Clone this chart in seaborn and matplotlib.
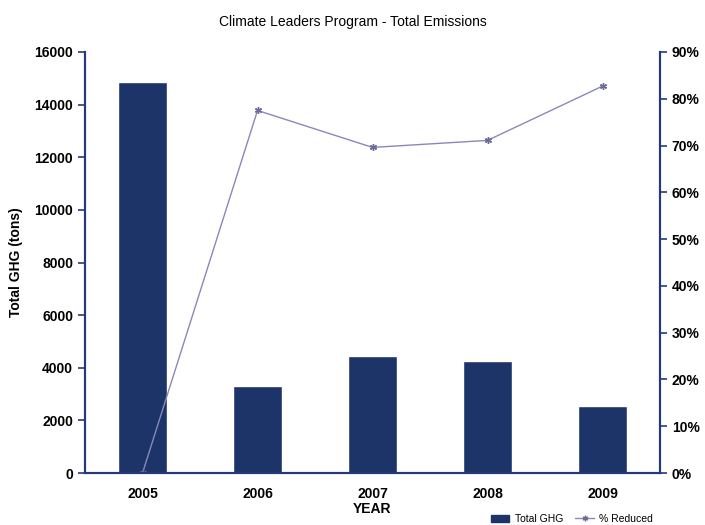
import numpy as np
import pandas as pd
import matplotlib
matplotlib.use("Agg")
import matplotlib.pyplot as plt
import seaborn as sns
from matplotlib.lines import Line2D
from matplotlib.patches import Patch

years = ["2005", "2006", "2007", "2008", "2009"]
total_ghg = [14850, 3310, 4450, 4260, 2550]
pct_reduced = [0.0, 77.5, 69.6, 71.1, 82.7]

sns.set_style("white")
plt.rcParams["font.family"] = ["Liberation Sans", "DejaVu Sans"]
plt.rcParams["text.color"] = "black"
plt.rcParams["axes.labelcolor"] = "black"
plt.rcParams["xtick.color"] = "black"
plt.rcParams["ytick.color"] = "black"

navy = "#1d3469"
spine_col = "#24397a"
line_col = "#8a88b8"
marker_col = "#6c6a9c"

fig = plt.figure(figsize=(7.05, 5.25), dpi=100)
ax = fig.add_axes([0.1206, 0.099, 0.8156, 0.802])

df = pd.DataFrame({"year": years, "ghg": total_ghg, "pct": pct_reduced})
sns.barplot(data=df, x="year", y="ghg", color=navy, width=0.42, saturation=1, ax=ax)
ax.set_ylim(0, 16000)
ax.set_yticks(np.arange(0, 16001, 2000))
ax.set_xlim(-0.5, len(years) - 0.5)

ax2 = ax.twinx()
sns.pointplot(data=df, x="year", y="pct", color=line_col, ax=ax2,
              markers=(6, 2, 0), markersize=5, linewidth=1.0,
              markeredgecolor=marker_col, markeredgewidth=1.0)
ax2.set_ylim(0, 90)
ax2.set_yticks(np.arange(0, 91, 10))
ax2.set_yticklabels([f"{v}%" for v in range(0, 91, 10)])
ax2.set_ylabel("")
ax2.set_xlim(-0.5, len(years) - 0.5)

for a in (ax, ax2):
    for side in ("left", "right", "bottom"):
        a.spines[side].set_color(spine_col)
        a.spines[side].set_linewidth(1.5)
    a.spines["top"].set_visible(False)

ax.tick_params(axis="y", direction="out", length=5, color=spine_col, width=1.2,
               labelsize=10, labelcolor="black")
ax.tick_params(axis="x", length=0, labelsize=10, pad=10, labelcolor="black")
ax2.tick_params(axis="y", direction="out", length=5, color=spine_col, width=1.2,
                labelsize=10, labelcolor="black")
for lbl in ax.get_xticklabels() + ax.get_yticklabels() + ax2.get_yticklabels():
    lbl.set_fontweight("bold")

ax.set_xlabel("YEAR", fontsize=10, fontweight="bold", labelpad=1)
ax.set_ylabel("Total GHG (tons)", fontsize=10, fontweight="bold", labelpad=8)
fig.suptitle("Climate Leaders Program - Total Emissions", fontsize=10, y=0.972)

handles = [Patch(facecolor=navy, edgecolor=navy),
           Line2D([0], [0], color=line_col, lw=1, marker=(6, 2, 0), markersize=4,
                  markeredgecolor=marker_col)]
fig.legend(handles, ["Total GHG", "% Reduced"], loc="lower right",
           bbox_to_anchor=(0.94, -0.016), ncol=2, frameon=False, fontsize=7.5,
           handlelength=1.8, handleheight=0.7, handletextpad=0.5, columnspacing=1.2)

fig.savefig("out.png", dpi=100)
